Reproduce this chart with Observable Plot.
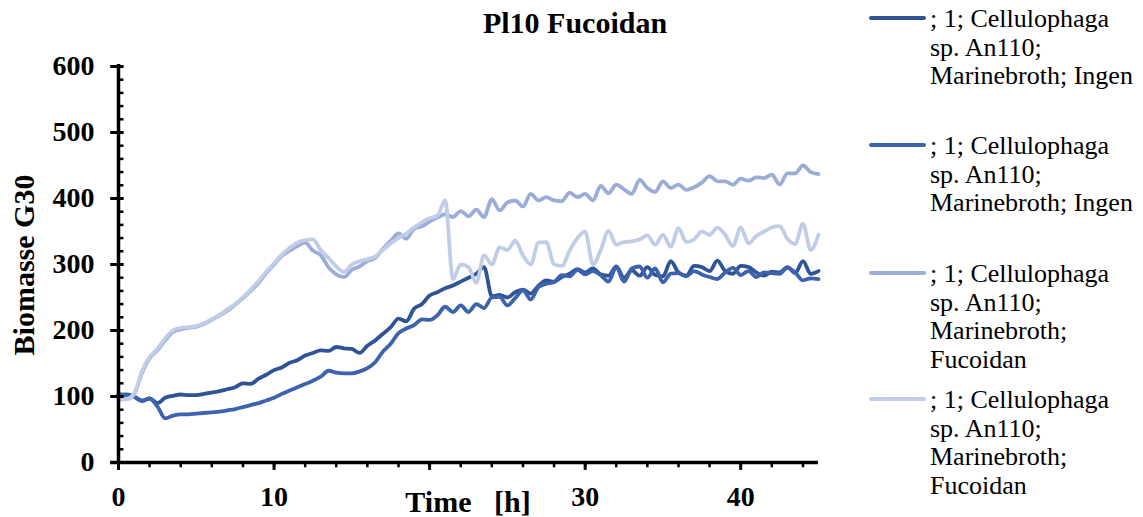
<!DOCTYPE html>
<html>
<head>
<meta charset="utf-8">
<script src="https://cdn.jsdelivr.net/npm/d3@7"></script>
<script src="https://cdn.jsdelivr.net/npm/@observablehq/plot@0.6"></script>
<style>
html,body{margin:0;padding:0;background:#fff;}
#chart{width:1143px;height:517px;}
</style>
</head>
<body>
<div id="chart"></div>
<script>
// ---- data ----
const chartTitle = "Pl10 Fucoidan";
const xLabel = "Time\u00A0\u00A0\u00A0[h]";
const yLabel = "Biomasse G30";

const hours = [0,0.5,1,1.5,2,2.5,3,3.5,4,4.5,5,5.5,6,6.5,7,7.5,8,8.5,9,9.5,
  10,10.5,11,11.5,12,12.5,13,13.5,14,14.5,15,15.5,16,16.5,17,17.5,18,18.5,19,19.5,
  20,20.5,21,21.5,22,22.5,23,23.5,24,24.5,25,25.5,26,26.5,27,27.5,28,28.5,29,29.5,
  30,30.5,31,31.5,32,32.5,33,33.5,34,34.5,35,35.5,36,36.5,37,37.5,38,38.5,39,39.5,
  40,40.5,41,41.5,42,42.5,43,43.5,44,44.5,45];

const ingen1 = [102,103,100,93,97,90,98,101,103,102,
  102,104,106,108,111,114,120,119,127,133,
  140,144,151,155,162,166,170,169,175,173,
  172,166,177,185,195,205,218,214,233,240,
  253,258,264,268,274,280,286,296,252,254,
  250,258,262,256,268,276,274,281,286,293,
  288,294,285,283,297,280,291,283,296,284,
  282,305,288,283,298,296,290,306,290,286,
  298,296,288,283,289,288,296,287,305,286,
  290];

const ingen2 = [104,102,100,94,97,85,67,71,73,73,
  74,75,76,77,79,81,84,87,90,94,
  98,104,109,114,119,124,130,139,136,135,
  135,138,143,152,168,180,196,203,208,217,
  216,223,236,228,238,228,240,234,250,251,
  238,249,261,247,266,271,273,284,282,292,
  285,290,284,274,296,274,294,297,280,294,
  273,286,287,282,290,285,281,278,288,295,
  284,290,281,288,287,286,295,288,276,279,
  278];

const fucoidan1 = [97,96,103,135,158,170,185,198,202,204,
  206,210,216,223,230,239,249,260,272,287,
  300,313,321,328,333,321,314,296,285,281,
  292,297,305,310,324,336,347,339,354,358,
  365,371,376,372,381,373,383,372,399,382,
  394,397,388,407,397,402,397,396,409,402,
  407,397,419,408,421,414,407,428,416,410,
  426,416,421,413,417,424,434,426,426,421,
  430,427,432,431,436,421,438,438,450,440,
  437];

const fucoidan2 = [95,96,104,138,160,172,188,200,204,205,
  207,211,217,224,232,240,250,262,275,289,
  302,315,325,333,337,338,322,310,297,289,
  300,305,308,312,322,332,340,347,356,364,
  370,374,397,278,300,296,272,314,300,326,
  322,336,314,300,333,334,300,298,321,340,
  350,300,322,351,330,334,335,338,344,330,
  345,327,355,334,338,350,345,356,345,328,
  356,332,343,350,356,358,339,331,362,322,
  345];

const legendLabels = [
  ["; 1; Cellulophaga", "sp. An110;", "Marinebroth; Ingen"],
  ["; 1; Cellulophaga", "sp. An110;", "Marinebroth; Ingen"],
  ["; 1; Cellulophaga", "sp. An110;", "Marinebroth;", "Fucoidan"],
  ["; 1; Cellulophaga", "sp. An110;", "Marinebroth;", "Fucoidan"]
];
const seriesColors = ["#2F5496", "#3B63AE", "#9BACD9", "#C1CCE7"];

const yTickValues = [0,100,200,300,400,500,600];
const yMinorTicks = [0,20,40,60,80,100,120,140,160,180,200,220,240,260,280,300,320,340,360,380,400,420,440,460,480,500,520,540,560,580,600];
const xTickValues = [0,10,20,30,40];
const xTickLabels = [0,10,30,40];
const xMinorTicks = [0,2,4,6,8,10,12,14,16,18,20,22,24,26,28,30,32,34,36,38,40,42,44];

// ---- build ----
const allSeries = [ingen1, ingen2, fucoidan1, fucoidan2];
const rows = [];
allSeries.forEach((vals, i) => vals.forEach((v, j) => rows.push({t: hours[j], v, s: i})));

const serif = "'Liberation Serif','Times New Roman',serif";

const chart = Plot.plot({
  width: 1143, height: 517,
  marginLeft: 118, marginRight: 325, marginTop: 66, marginBottom: 55,
  style: {fontFamily: serif, background: "#fff", overflow: "visible", color: "#000"},
  x: {domain: [0, 45], axis: null},
  y: {domain: [0, 600], axis: null},
  marks: [
    ...[0,1,2,3].map(i => Plot.line(rows.filter(r => r.s === i), {
      x: "t", y: "v", stroke: seriesColors[i], strokeWidth: 3.8, curve: "monotone-x"
    })),
    Plot.ruleY(yMinorTicks, {y: d => d, x1: 0, x2: 0.35, stroke: "#000", strokeWidth: 2.5}),
    Plot.ruleY(yTickValues, {y: d => d, x1: -0.5, x2: 0.35, stroke: "#000", strokeWidth: 3}),
    Plot.ruleX(xMinorTicks, {x: d => d, y1: 0, y2: -8, stroke: "#000", strokeWidth: 2.5}),
    Plot.ruleX(xTickValues, {x: d => d, y1: 0, y2: -12, stroke: "#000", strokeWidth: 3}),
    Plot.ruleX([0], {x: d => d, y1: 0, y2: 603, stroke: "#000", strokeWidth: 3.5}),
    Plot.ruleY([0], {y: d => d, x1: -0.5, x2: 45, stroke: "#000", strokeWidth: 3.5}),
    Plot.text(yTickValues, {y: d => d, text: d => String(d), frameAnchor: "left", dx: -24,
      textAnchor: "end", lineAnchor: "middle", fontSize: 28, fontWeight: "bold", fill: "#000"}),
    Plot.text(xTickLabels, {x: d => d, text: d => String(d), frameAnchor: "bottom", dy: 35,
      lineAnchor: "middle", fontSize: 28, fontWeight: "bold", fill: "#000"})
  ]
});
document.getElementById("chart").appendChild(chart);

const svg = d3.select(chart);
svg.append("text")
  .attr("x", 575).attr("y", 33)
  .attr("text-anchor", "middle")
  .attr("font-family", serif).attr("font-weight", "bold").attr("font-size", 30)
  .attr("fill", "#000")
  .text(chartTitle);

svg.append("text")
  .attr("transform", "translate(34,265) rotate(-90)")
  .attr("text-anchor", "middle")
  .attr("font-family", serif).attr("font-weight", "bold").attr("font-size", 30)
  .attr("fill", "#000")
  .text(yLabel);

svg.append("text")
  .attr("x", 468).attr("y", 512)
  .attr("text-anchor", "middle")
  .attr("font-family", serif).attr("font-weight", "bold").attr("font-size", 30)
  .attr("fill", "#000")
  .text(xLabel);

// legend
const legendTops = [18, 145, 273, 399];
const leg = svg.append("g").attr("text-anchor", "start");
legendLabels.forEach((lines, i) => {
  const y0 = legendTops[i];
  leg.append("line")
    .attr("x1", 871).attr("x2", 924).attr("y1", y0).attr("y2", y0)
    .attr("stroke", seriesColors[i]).attr("stroke-width", 4).attr("stroke-linecap", "round");
  lines.forEach((ln, k) => {
    leg.append("text")
      .attr("x", 930).attr("y", y0 + 9 + k * 28.7)
      .attr("text-anchor", "start")
      .attr("font-family", serif).attr("font-size", 26).attr("fill", "#000")
      .text(ln);
  });
});
</script>
</body>
</html>
